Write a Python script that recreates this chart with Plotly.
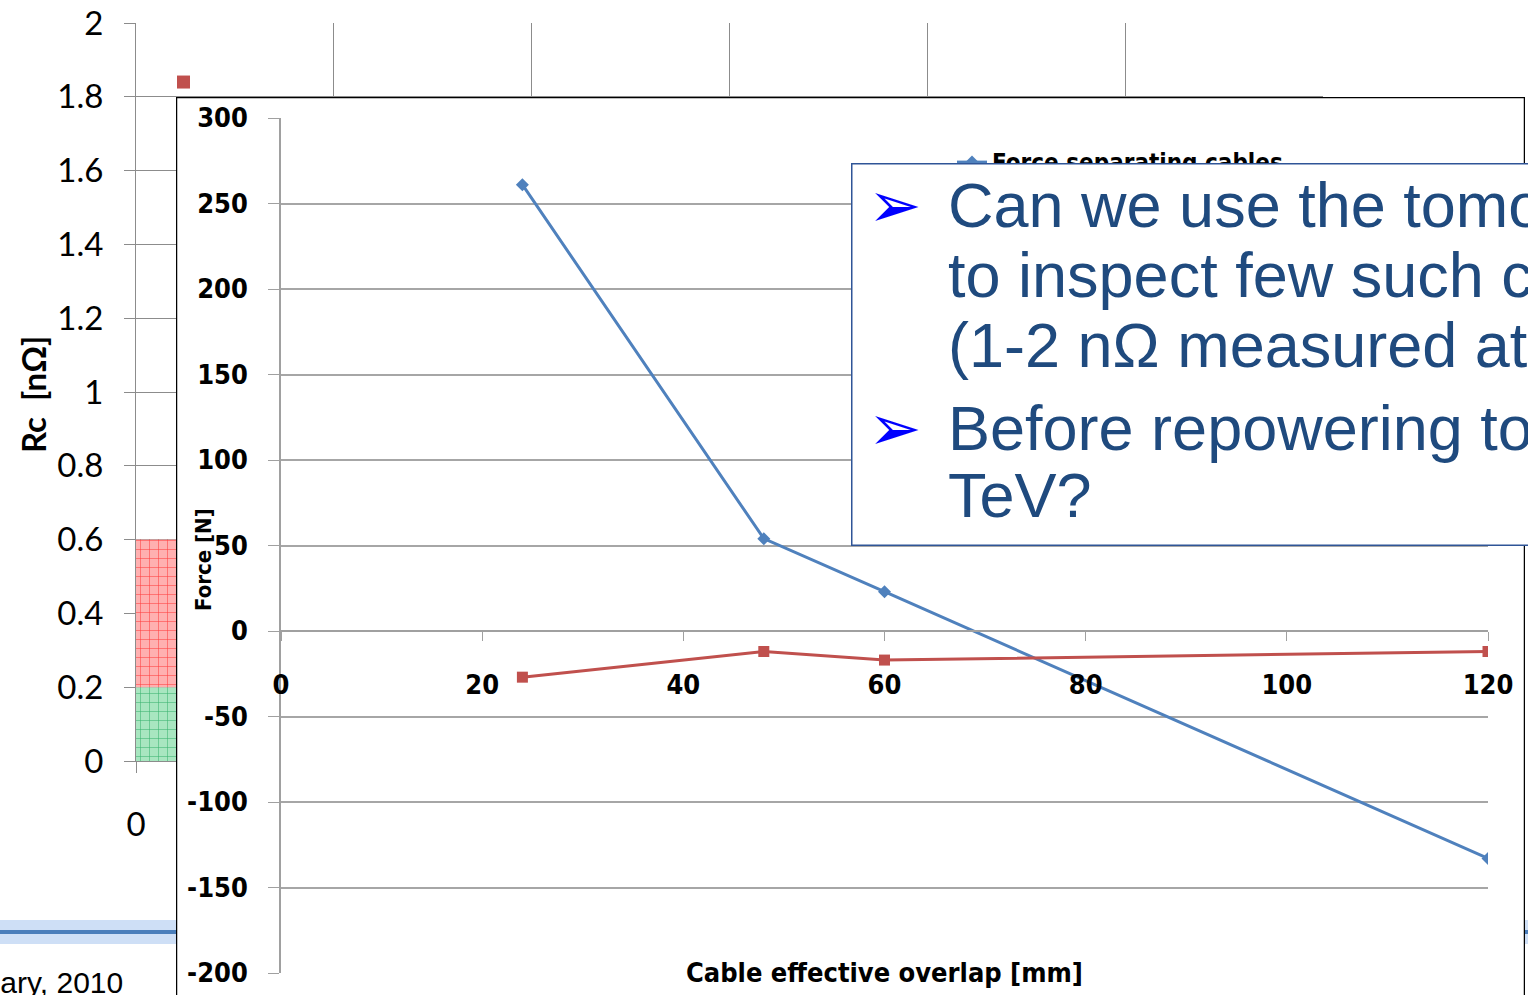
import plotly.graph_objects as go

W, H = 1528, 995
def px(x): return x / W
def py(y): return 1 - y / H

# ---------------- data ----------------
# background chart (Rc)
bg_x_ticks = [0, 1, 2, 3, 4, 5, 6]
bg_x_labels = ["0", "1", "2", "3", "4", "5", "6"]
bg_y_ticks = [0, 0.2, 0.4, 0.6, 0.8, 1, 1.2, 1.4, 1.6, 1.8, 2]
bg_y_labels = ["0", "0.2", "0.4", "0.6", "0.8", "1", "1.2", "1.4", "1.6", "1.8", "2"]
rc_x = [0.24]
rc_y = [1.84]
band_green = [0.0, 0.2]
band_red = [0.2, 0.6]
band_x = [0, 6]

# inset chart (Force)
overlap_mm = [24, 48, 60, 120]
force_separating = [261, 54, 23, -133]
force_other = [-27, -12, -17, -12]
inset_x_ticks = [0, 20, 40, 60, 80, 100, 120]
inset_y_ticks = [-200, -150, -100, -50, 0, 50, 100, 150, 200, 250, 300]
inset_y_labels = ["-200", "-150", "-100", "-50", "0", "50", "100", "150", "200", "250", "300"]

text_lines = ["Can we use the tomography",
              "to inspect few such cables",
              "(1-2 nΩ measured at 1.9 K)",
              "Before repowering to 3.5",
              "TeV?"]

NARROW = "Liberation Sans Narrow, DejaVu Sans Condensed, DejaVu Sans, sans-serif"
CAL = "Lato, Open Sans, sans-serif"
GRID = "#8C8C8C"

fig = go.Figure()

# ---- background subplot (xy) ----
fig.add_trace(go.Scatter(
    x=[band_x[0], band_x[1], band_x[1], band_x[0], band_x[0]],
    y=[band_green[0], band_green[0], band_green[1], band_green[1], band_green[0]],
    fill="toself", mode="lines", line=dict(width=0),
    fillcolor="#9ee0b8",
    fillpattern=dict(shape="+", fgcolor="#3cb371", bgcolor="#a8e6c0", size=9, solidity=0.12),
    showlegend=False, hoverinfo="skip", xaxis="x", yaxis="y"))
fig.add_trace(go.Scatter(
    x=[band_x[0], band_x[1], band_x[1], band_x[0], band_x[0]],
    y=[band_red[0], band_red[0], band_red[1], band_red[1], band_red[0]],
    fill="toself", mode="lines", line=dict(width=0),
    fillcolor="#ffa8a8",
    fillpattern=dict(shape="+", fgcolor="#ff4040", bgcolor="#ffb0b0", size=9, solidity=0.12),
    showlegend=False, hoverinfo="skip", xaxis="x", yaxis="y"))
fig.add_trace(go.Scatter(
    x=rc_x, y=rc_y, mode="markers",
    marker=dict(symbol="square", size=13, color="#C0504D"),
    showlegend=False, xaxis="x", yaxis="y", cliponaxis=False))

# ---- cover subplot (x2y2): white chart area of the inset ----
fig.add_trace(go.Scatter(
    x=[0, 1, 1, 0, 0], y=[-0.2, -0.2, 1, 1, -0.2], mode="lines", fill="toself",
    fillcolor="white", line=dict(color="black", width=2.5),
    showlegend=False, hoverinfo="skip", xaxis="x2", yaxis="y2"))

# ---- inset subplot (x3y3) ----
fig.add_trace(go.Scatter(
    x=overlap_mm, y=force_separating, mode="lines+markers",
    name="Force separating cables",
    line=dict(color="#4F81BD", width=3),
    marker=dict(symbol="diamond", size=10, color="#4F81BD"),
    xaxis="x3", yaxis="y3"))
fig.add_trace(go.Scatter(
    x=overlap_mm, y=force_other, mode="lines+markers",
    name="Force compressing cables",
    line=dict(color="#C0504D", width=3),
    marker=dict(symbol="square", size=11, color="#C0504D"),
    xaxis="x3", yaxis="y3"))

# ---------------- layout ----------------
fig.update_layout(
    width=W, height=H,
    margin=dict(l=0, r=0, t=0, b=0),
    paper_bgcolor="white", plot_bgcolor="rgba(0,0,0,0)",
    template="none",
    xaxis=dict(domain=[px(136), px(1323)], range=[0, 6], tickvals=bg_x_ticks, ticktext=bg_x_labels,
               showgrid=True, gridcolor=GRID, gridwidth=1, showline=True, linecolor=GRID,
               ticks="outside", ticklen=11, tickcolor=GRID, zeroline=False,
               tickfont=dict(family=CAL, size=33, color="black"), ticklabelstandoff=23,
               anchor="y"),
    yaxis=dict(domain=[py(761), py(23)], range=[0, 2], tickvals=bg_y_ticks, ticktext=bg_y_labels,
               showgrid=True, gridcolor=GRID, gridwidth=1, showline=True, linecolor=GRID,
               ticks="outside", ticklen=11, tickcolor=GRID, zeroline=False,
               tickfont=dict(family=CAL, size=33, color="black"), ticklabelstandoff=14,
               anchor="x"),
    xaxis2=dict(domain=[px(176), px(1525)], range=[0, 1], visible=False, anchor="y2"),
    yaxis2=dict(domain=[0, py(97)], range=[0, 1], visible=False, anchor="x2"),
    xaxis3=dict(domain=[px(281), px(1488)], range=[0, 120], tickvals=inset_x_ticks,
                showgrid=False, showline=True, linecolor="#A0A0A0", linewidth=1.5,
                ticks="outside", ticklen=9, tickcolor="#A0A0A0", zeroline=False,
                tickfont=dict(family=NARROW, size=27, color="black", weight="bold"),
                ticklabelstandoff=21, anchor="free", position=py(631)),
    yaxis3=dict(domain=[py(973), py(118)], range=[-200, 300], tickvals=inset_y_ticks,
                ticktext=inset_y_labels,
                showgrid=True, gridcolor="#A6A6A6", gridwidth=1.5, showline=True,
                linecolor="#A0A0A0", linewidth=1.5,
                ticks="outside", ticklen=11, tickcolor="#A0A0A0", zeroline=False,
                tickfont=dict(family=NARROW, size=27, color="black", weight="bold"),
                ticklabelstandoff=15, anchor="x3"),
    legend=dict(x=px(952), y=py(140), xanchor="left", yanchor="top",
                bgcolor="rgba(0,0,0,0)",
                font=dict(family=NARROW, size=24, color="black", weight="bold")),
    showlegend=True,
)

# decorative slide line (below everything)
fig.add_shape(type="line", xref="paper", yref="paper", x0=0, x1=1, y0=py(932), y1=py(932),
              line=dict(color="rgba(185,210,242,0.7)", width=24), layer="below")
fig.add_shape(type="line", xref="paper", yref="paper", x0=0, x1=1, y0=py(932), y1=py(932),
              line=dict(color="#4A7EBB", width=4), layer="below")

ann = []
ann.append(dict(text="<b>Rc  [nΩ]</b>", x=px(33), y=py(395), xref="paper", yref="paper",
                xanchor="center", yanchor="middle",
                textangle=-90, showarrow=False, font=dict(family=CAL, size=33, color="black")))
ann.append(dict(text="February, 2010", x=px(125), y=py(982), xref="paper", yref="paper",
                xanchor="right", yanchor="middle", showarrow=False,
                font=dict(family="Liberation Sans, Arial, sans-serif", size=30, color="black")))
ann.append(dict(text="<b>Force [N]</b>", x=px(203), y=py(560), xref="paper", yref="paper",
                xanchor="center", yanchor="middle",
                textangle=-90, showarrow=False, font=dict(family=NARROW, size=22, color="black")))
ann.append(dict(text="<b>Cable effective overlap [mm]</b>", x=px(884), y=py(972), xref="paper",
                yref="paper", xanchor="center", yanchor="middle", showarrow=False,
                font=dict(family=NARROW, size=27, color="black")))
# text box
ann.append(dict(text=" ", x=px(851), y=py(163), xref="paper", yref="paper", xanchor="left",
                yanchor="top", width=760, height=380, bgcolor="white", bordercolor="#2F5597",
                borderwidth=1.5, borderpad=0, showarrow=False))
line_y = [205, 275, 345, 428, 495]
TXT = "Liberation Sans, Arial, sans-serif"
for t, yy in zip(text_lines, line_y):
    ann.append(dict(text=t, x=px(946), y=py(yy), xref="paper", yref="paper", xanchor="left",
                    yanchor="middle", showarrow=False,
                    font=dict(family=TXT, size=63, color="#1F4A7E")))
for yy in [205, 428]:
    ann.append(dict(text="➢", x=px(895), y=py(yy), xref="paper", yref="paper", xanchor="center",
                    yanchor="middle", showarrow=False,
                    font=dict(family="DejaVu Sans, sans-serif", size=64, color="#0000FF")))
fig.update_layout(annotations=ann)

fig.write_html("out.html", config={"displayModeBar": False},
               post_script="document.body.style.margin='0';document.body.style.padding='0';")
